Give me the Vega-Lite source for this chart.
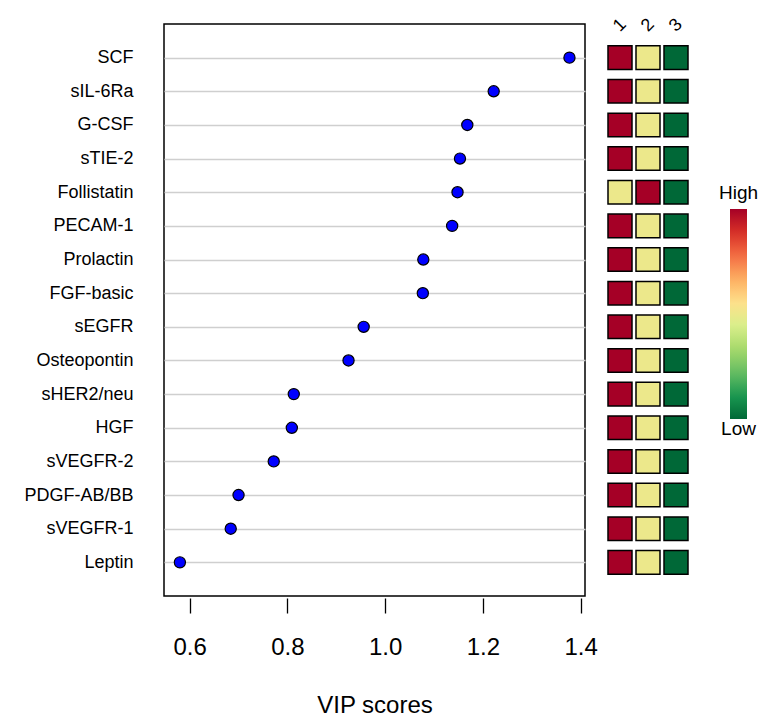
{
  "$schema": "https://vega.github.io/schema/vega-lite/v6.json",
  "autosize": {"type": "pad"},
  "padding": {"left": 23, "top": 15, "right": 5, "bottom": 2},
  "background": "white",
  "bounds": "flush",
  "spacing": 21,
  "config": {
    "font": "Liberation Sans",
    "view": {"stroke": null},
    "axis": {"labelColor": "black", "titleColor": "black", "titleFontWeight": "normal"}
  },
  "datasets": {
    "vip": [
      {"feature": "SCF", "vip": 1.377},
      {"feature": "sIL-6Ra", "vip": 1.222},
      {"feature": "G-CSF", "vip": 1.168},
      {"feature": "sTIE-2", "vip": 1.153},
      {"feature": "Follistatin", "vip": 1.148},
      {"feature": "PECAM-1", "vip": 1.137},
      {"feature": "Prolactin", "vip": 1.078},
      {"feature": "FGF-basic", "vip": 1.077},
      {"feature": "sEGFR", "vip": 0.956},
      {"feature": "Osteopontin", "vip": 0.925},
      {"feature": "sHER2/neu", "vip": 0.813},
      {"feature": "HGF", "vip": 0.809},
      {"feature": "sVEGFR-2", "vip": 0.772},
      {"feature": "PDGF-AB/BB", "vip": 0.700},
      {"feature": "sVEGFR-1", "vip": 0.684},
      {"feature": "Leptin", "vip": 0.580}
    ],
    "heat": [
      {"feature": "SCF", "group": "1", "level": 3}, {"feature": "SCF", "group": "2", "level": 2}, {"feature": "SCF", "group": "3", "level": 1},
      {"feature": "sIL-6Ra", "group": "1", "level": 3}, {"feature": "sIL-6Ra", "group": "2", "level": 2}, {"feature": "sIL-6Ra", "group": "3", "level": 1},
      {"feature": "G-CSF", "group": "1", "level": 3}, {"feature": "G-CSF", "group": "2", "level": 2}, {"feature": "G-CSF", "group": "3", "level": 1},
      {"feature": "sTIE-2", "group": "1", "level": 3}, {"feature": "sTIE-2", "group": "2", "level": 2}, {"feature": "sTIE-2", "group": "3", "level": 1},
      {"feature": "Follistatin", "group": "1", "level": 2}, {"feature": "Follistatin", "group": "2", "level": 3}, {"feature": "Follistatin", "group": "3", "level": 1},
      {"feature": "PECAM-1", "group": "1", "level": 3}, {"feature": "PECAM-1", "group": "2", "level": 2}, {"feature": "PECAM-1", "group": "3", "level": 1},
      {"feature": "Prolactin", "group": "1", "level": 3}, {"feature": "Prolactin", "group": "2", "level": 2}, {"feature": "Prolactin", "group": "3", "level": 1},
      {"feature": "FGF-basic", "group": "1", "level": 3}, {"feature": "FGF-basic", "group": "2", "level": 2}, {"feature": "FGF-basic", "group": "3", "level": 1},
      {"feature": "sEGFR", "group": "1", "level": 3}, {"feature": "sEGFR", "group": "2", "level": 2}, {"feature": "sEGFR", "group": "3", "level": 1},
      {"feature": "Osteopontin", "group": "1", "level": 3}, {"feature": "Osteopontin", "group": "2", "level": 2}, {"feature": "Osteopontin", "group": "3", "level": 1},
      {"feature": "sHER2/neu", "group": "1", "level": 3}, {"feature": "sHER2/neu", "group": "2", "level": 2}, {"feature": "sHER2/neu", "group": "3", "level": 1},
      {"feature": "HGF", "group": "1", "level": 3}, {"feature": "HGF", "group": "2", "level": 2}, {"feature": "HGF", "group": "3", "level": 1},
      {"feature": "sVEGFR-2", "group": "1", "level": 3}, {"feature": "sVEGFR-2", "group": "2", "level": 2}, {"feature": "sVEGFR-2", "group": "3", "level": 1},
      {"feature": "PDGF-AB/BB", "group": "1", "level": 3}, {"feature": "PDGF-AB/BB", "group": "2", "level": 2}, {"feature": "PDGF-AB/BB", "group": "3", "level": 1},
      {"feature": "sVEGFR-1", "group": "1", "level": 3}, {"feature": "sVEGFR-1", "group": "2", "level": 2}, {"feature": "sVEGFR-1", "group": "3", "level": 1},
      {"feature": "Leptin", "group": "1", "level": 3}, {"feature": "Leptin", "group": "2", "level": 2}, {"feature": "Leptin", "group": "3", "level": 1}
    ]
  },
  "resolve": {"scale": {"x": "independent", "y": "independent"}},
  "hconcat": [
    {
      "width": 421,
      "height": 572,
      "view": {"stroke": "black", "strokeWidth": 1.5},
      "data": {"name": "vip"},
      "mark": {"type": "point", "filled": true, "fill": "#0000FF", "stroke": "#000000", "strokeWidth": 1.2, "size": 125, "opacity": 1},
      "encoding": {
        "y": {
          "field": "feature", "type": "nominal",
          "sort": ["SCF", "sIL-6Ra", "G-CSF", "sTIE-2", "Follistatin", "PECAM-1", "Prolactin", "FGF-basic", "sEGFR", "Osteopontin", "sHER2/neu", "HGF", "sVEGFR-2", "PDGF-AB/BB", "sVEGFR-1", "Leptin"],
          "scale": {"type": "point", "padding": 1},
          "axis": {"title": null, "labelFontSize": 18, "labelPadding": 31, "ticks": false, "tickSize": 0, "domain": false, "grid": true, "gridColor": "#CFCFCF", "gridWidth": 1.5, "labelLimit": 300}
        },
        "x": {
          "field": "vip", "type": "quantitative",
          "scale": {"domain": [0.5475, 1.4088], "nice": false, "zero": false},
          "axis": {"title": "VIP scores", "values": [0.6, 0.8, 1.0, 1.2, 1.4], "format": ".1f", "grid": false, "domain": false, "offset": 2, "tickSize": 15, "tickColor": "black", "tickWidth": 1.3, "labelFontSize": 24, "labelPadding": 22, "titleFontSize": 24, "titlePadding": 34}
        }
      }
    },
    {
      "width": 84,
      "height": 572,
      "data": {"name": "heat"},
      "mark": {"type": "rect", "stroke": "black", "strokeWidth": 1.5},
      "encoding": {
        "x": {
          "field": "group", "type": "nominal", "sort": ["1", "2", "3"],
          "scale": {"paddingInner": 0.143, "paddingOuter": 0.0714},
          "axis": {"orient": "top", "title": null, "labelAngle": -45, "labelAlign": "center", "labelBaseline": "middle", "labelFontSize": 18, "ticks": false, "tickSize": 0, "domain": false, "labelPadding": -1}
        },
        "y": {
          "field": "feature", "type": "nominal",
          "sort": ["SCF", "sIL-6Ra", "G-CSF", "sTIE-2", "Follistatin", "PECAM-1", "Prolactin", "FGF-basic", "sEGFR", "Osteopontin", "sHER2/neu", "HGF", "sVEGFR-2", "PDGF-AB/BB", "sVEGFR-1", "Leptin"],
          "scale": {"paddingInner": 0.3, "paddingOuter": 0.65},
          "axis": null
        },
        "color": {
          "field": "level", "type": "quantitative",
          "scale": {"domain": [1, 3], "range": ["#006837", "#1A9850", "#66BD63", "#A6D96A", "#D9EF8B", "#FEE08B", "#FDAE61", "#F46D43", "#D73027", "#A50026"], "interpolate": "rgb"},
          "legend": {
            "orient": "none", "legendX": 555, "legendY": 160,
            "title": "High", "titleFontSize": 19, "titleFontWeight": "normal", "titleColor": "black", "titleAnchor": "middle", "titleAlign": "center", "titlePadding": 6,
            "gradientLength": 210, "gradientThickness": 17, "gradientStrokeWidth": 0,
            "values": [1], "labelExpr": "'Low'", "labelFontSize": 19, "labelColor": "black", "labelOffset": -8.5,
            "encoding": {
              "title": {
                "dx": {"value": -4.5}
              },
              "labels": {
                "align": {"value": "center"},
                "baseline": {"value": "top"},
                "dy": {"value": 1}
              }
            }
          }
        }
      }
    }
  ]
}
